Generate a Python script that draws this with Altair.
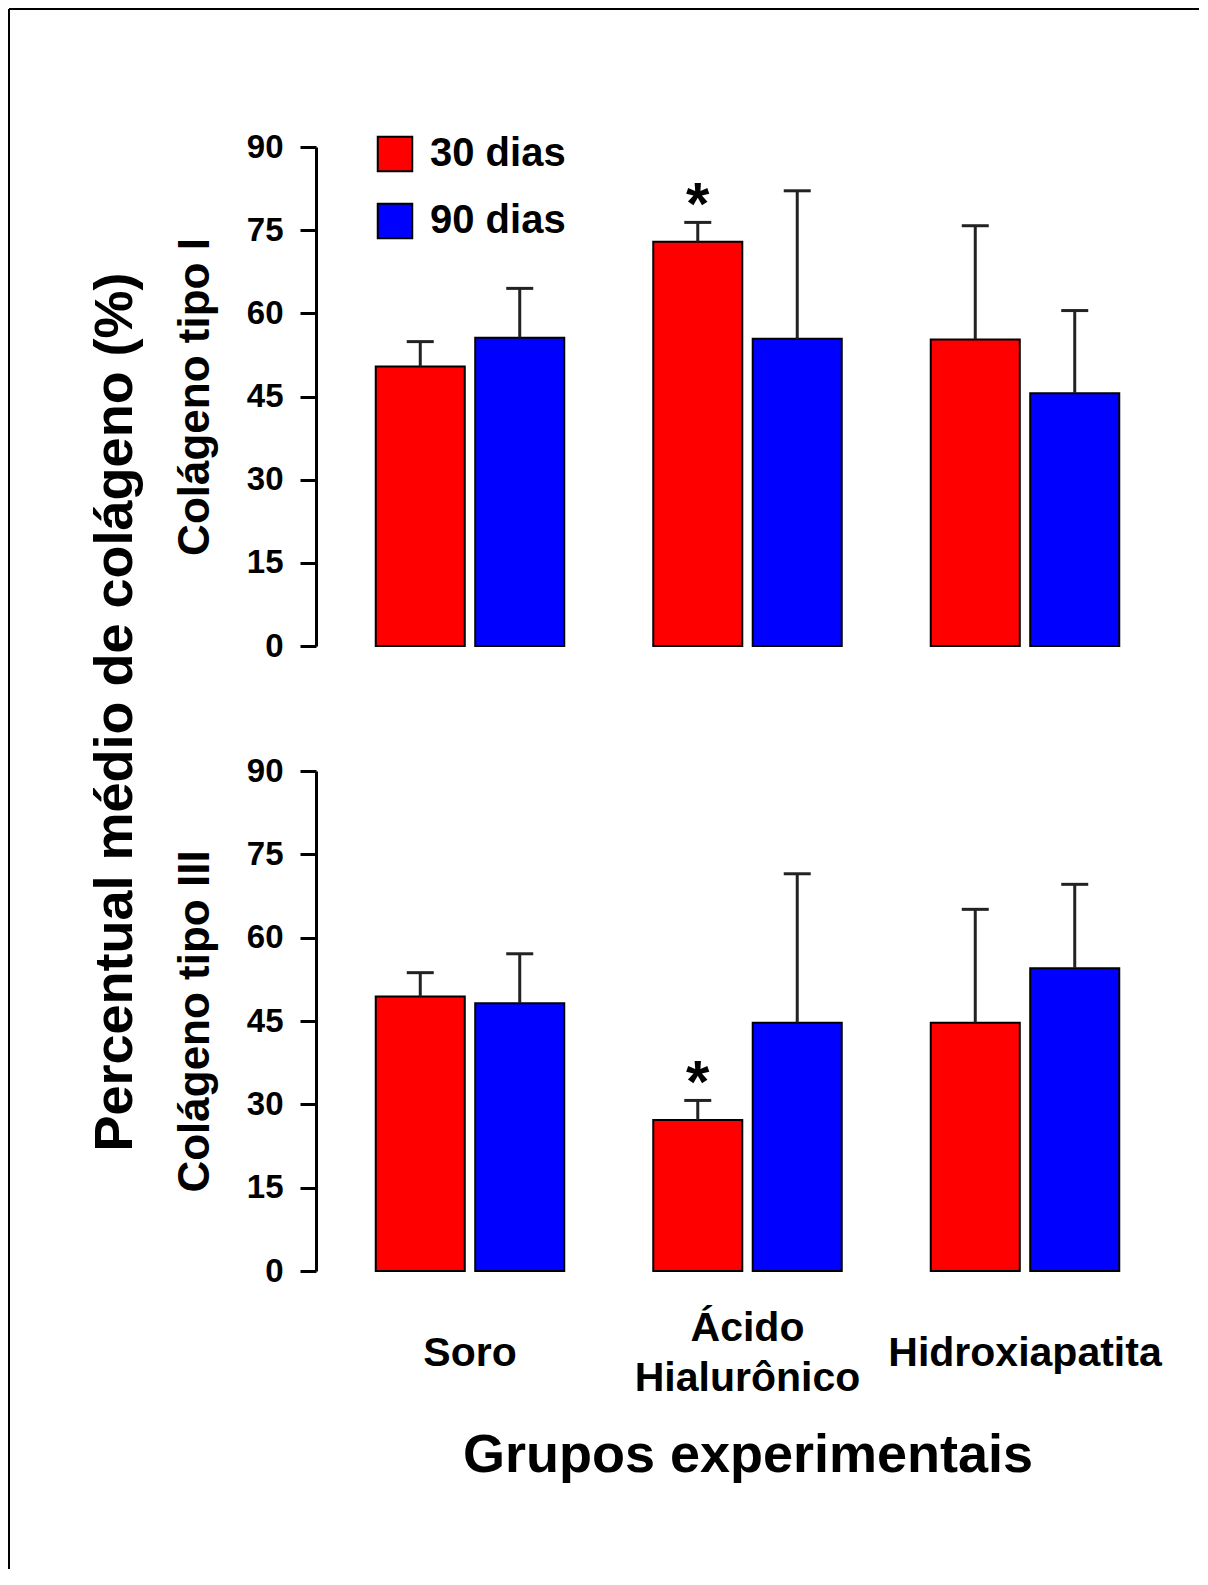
import altair as alt
import pandas as pd

# ---------------- data ----------------
grupos = ["Soro", "Ácido Hialurônico", "Hidroxiapatita"]
periodos = ["30 dias", "90 dias"]
cores = ["#ff0000", "#0000ff"]

# Colágeno tipo I
t1_media_30 = [50.4, 72.9, 55.3]
t1_dp_30 = [4.5, 3.5, 20.5]
t1_media_90 = [55.6, 55.4, 45.6]
t1_dp_90 = [8.9, 26.7, 14.9]
t1_sig_30 = ["", "*", ""]

# Colágeno tipo III
t3_media_30 = [49.4, 27.2, 44.7]
t3_dp_30 = [4.3, 3.5, 20.4]
t3_media_90 = [48.2, 44.7, 54.5]
t3_dp_90 = [8.9, 26.8, 15.1]
t3_sig_30 = ["", "*", ""]

y_ticks = [0, 15, 30, 45, 60, 75, 90]

titulo_geral = "Percentual médio de colágeno (%)"
titulo_t1 = "Colágeno tipo I"
titulo_t3 = "Colágeno tipo III"
titulo_x = "Grupos experimentais"

FONT = "Liberation Sans"
W = 863
H_TOP = 499
H_BOT = 500


def tabela(m30, d30, m90, d90, sig30):
    rows = []
    for i, g in enumerate(grupos):
        rows.append(dict(grupo=g, periodo=periodos[0], media=m30[i],
                         sup=m30[i] + d30[i], sig=sig30[i]))
        rows.append(dict(grupo=g, periodo=periodos[1], media=m90[i],
                         sup=m90[i] + d90[i], sig=""))
    return pd.DataFrame(rows)


def painel(df, titulo, h, mostrar_x, mostrar_legenda):
    if mostrar_x:
        x_axis = alt.Axis(domain=False, ticks=False, tickSize=0, labelAngle=0,
                          labelFont=FONT, labelFontSize=41, labelFontWeight="bold",
                          labelColor="black",
                          labelPadding={"condition": {"test": "indexof(datum.label, ' ') > 0",
                                                      "value": 57.6},
                                        "value": 82.6},
                          labelBaseline="middle",
                          labelLineHeight=50, labelExpr="split(datum.label, ' ')",
                          labelLimit=1000, labelOverlap=False,
                          titleFont=FONT, titleFontSize=54, titleFontWeight="bold",
                          titleColor="black", titleY=200.7, titleBaseline="alphabetic")
        x = alt.X("grupo:N", sort=grupos, title=titulo_x,
                  scale=alt.Scale(paddingInner=0.3207, paddingOuter=0.2153), axis=x_axis)
    else:
        x = alt.X("grupo:N", sort=grupos,
                  scale=alt.Scale(paddingInner=0.3207, paddingOuter=0.2153), axis=None)
    xo = alt.XOffset("periodo:N", sort=periodos,
                     scale=alt.Scale(paddingInner=0.105, paddingOuter=0))
    y_axis = alt.Axis(values=y_ticks, grid=False, domainColor="black", domainWidth=3,
                      tickColor="black", tickWidth=3, tickSize=16,
                      labelFont=FONT, labelFontSize=33, labelFontWeight="bold",
                      labelColor="black", labelPadding=17,
                      titleFont=FONT, titleFontSize=44, titleFontWeight="bold",
                      titleColor="black", titleX=-107.7, titleY=h / 2, titleAngle=270,
                      titleAlign="center", titleBaseline="alphabetic")
    yscale = alt.Scale(domain=[0, 90], nice=False, zero=True)
    if mostrar_legenda:
        legenda = alt.Legend(orient="none", legendX=59, legendY=-13, title=None,
                             symbolType="square", symbolSize=1190,
                             symbolStrokeColor="black", symbolStrokeWidth=2,
                             symbolOpacity=1,
                             labelFont=FONT, labelFontSize=40, labelFontWeight="bold",
                             labelColor="black", labelOffset=15, rowPadding=23,
                             padding=0, labelLimit=400)
    else:
        legenda = None
    color = alt.Color("periodo:N", sort=periodos,
                      scale=alt.Scale(domain=periodos, range=cores), legend=legenda)

    base = alt.Chart(df)
    barras = base.mark_bar(stroke="black", strokeWidth=2, opacity=1).encode(
        x=x, xOffset=xo,
        y=alt.Y("media:Q", scale=yscale, axis=y_axis, title=titulo),
        color=color)
    erros = base.mark_rule(color="#222222", strokeWidth=3).encode(
        x=x, xOffset=xo,
        y=alt.Y("media:Q", scale=yscale, axis=y_axis, title=titulo),
        y2="sup:Q")
    caps = base.mark_tick(color="#222222", size=27, thickness=3, opacity=1,
                          orient="horizontal").encode(
        x=x, xOffset=xo,
        y=alt.Y("sup:Q", scale=yscale, axis=y_axis, title=titulo))
    estrelas = base.mark_text(font=FONT, fontSize=60, fontWeight="bold",
                              baseline="alphabetic", align="center", dy=2,
                              color="black").encode(
        x=x, xOffset=xo,
        y=alt.Y("sup:Q", scale=yscale, axis=y_axis, title=titulo),
        text="sig:N")
    return [barras, erros, caps, estrelas]


df1 = tabela(t1_media_30, t1_dp_30, t1_media_90, t1_dp_90, t1_sig_30)
df3 = tabela(t3_media_30, t3_dp_30, t3_media_90, t3_dp_90, t3_sig_30)

aux = pd.DataFrame({"k": [0]})
moldura_v = alt.Chart(aux).mark_rule(color="black", strokeWidth=2).encode(
    x=alt.value(-307), y=alt.value(-138), y2=alt.value(1422))
moldura_h = alt.Chart(aux).mark_rule(color="black", strokeWidth=2).encode(
    x=alt.value(-307), x2=alt.value(883), y=alt.value(-138))
titulo_txt = alt.Chart(aux).mark_text(font=FONT, fontSize=54, fontWeight="bold",
                                      angle=270, align="center", baseline="alphabetic",
                                      color="black").encode(
    x=alt.value(-183.7), y=alt.value(565), text=alt.value(titulo_geral))

topo = alt.layer(moldura_v, moldura_h, titulo_txt,
                 *painel(df1, titulo_t1, H_TOP, False, True)).properties(
    width=W, height=H_TOP)
baixo = alt.layer(*painel(df3, titulo_t3, H_BOT, True, False)).properties(
    width=W, height=H_BOT)

chart = alt.vconcat(topo, baixo, spacing=125, bounds="flush").resolve_legend(
    color="independent").properties(padding=0, background="white").configure_view(
    stroke=None)

chart.save("out.html", embed_options={"renderer": "svg", "actions": False})
